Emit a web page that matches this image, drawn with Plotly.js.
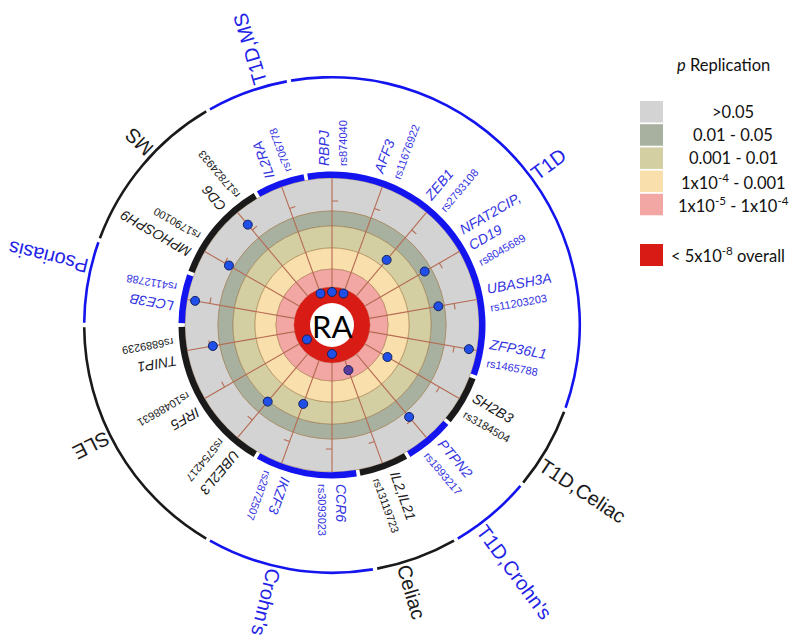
<!DOCTYPE html>
<html>
<head>
<meta charset="utf-8">
<script src="https://cdn.plot.ly/plotly-3.0.1.min.js"></script>
<style>
  html, body { margin: 0; padding: 0; background: #fff; }
  #chart { width: 800px; height: 642px; }
</style>
</head>
<body>
<div id="chart"></div>
<script>
// SNPs clockwise from the top of the circle
const genes = ['RBPJ', 'AFF3', 'ZEB1', 'NFAT2CIP,<br>CD19', 'UBASH3A', 'ZFP36L1', 'SH2B3', 'PTPN2', 'IL2,IL21',
               'CCR6', 'IKZF3', 'UBE2L3', 'IRF5', 'TNIP1', 'LCE3B', 'MPHOSPH9', 'CD6', 'IL2RA'];
const snps = ['rs874040', 'rs11676922', 'rs2793108', 'rs8045689', 'rs11203203', 'rs1465788', 'rs3184504', 'rs1893217',
              'rs13119723', 'rs3093023', 'rs2872507', 'rs5754217', 'rs10488631', 'rs6889239', 'rs4112788',
              'rs1790100', 'rs17824933', 'rs706778'];
// which disease group each SNP was first reported for (index into diseases)
const geneGroup = [1, 1, 1, 1, 1, 1, 2, 3, 4, 5, 5, 6, 6, 6, 7, 8, 8, 0];
const diseases = ['T1D,MS', 'T1D', 'T1D,Celiac', "T1D,Crohn's", 'Celiac', "Crohn's", 'SLE', 'Psoriasis', 'MS'];
// replication position on the radial scale (centre ring = overall significant)
const replication = [33, 33.5, 85, 107, 108, 139, 64, 120, 48, 29, 84, 100, 29, 121, 139, 119, 131, 33.5];

// p replication bins (outer to inner) and the overall ring
const binLabels = ['&gt;0.05', '0.01 - 0.05', '0.001 - 0.01', '1x10<sup>-4</sup> - 0.001', '1x10<sup>-5</sup> - 1x10<sup>-4</sup>'];
const overallLabel = '&lt; 5x10<sup>-8</sup> overall';

// ---- geometry / style ----
const W = 800, H = 642, CX = 332, CY = 325, RPX = 300;
const binEdges = [147, 114, 99, 77, 56, 38];   // radial scale edges for the bins
const ringInner = 22;
const binColors = ['#d3d3d3', '#a8b19f', '#d3cfa3', '#f8dfac', '#f2a7a5'];
const redColor = '#d81b14';
const BLUE = '#1414ee', BLACK = '#1a1a1a';
// groups alternate blue / black going round, both T1D groups at the top are blue
const groupColor = diseases.map((d, g) => (g === 0 || g % 2 === 1) ? BLUE : BLACK);

const step = 360 / genes.length;
const theta = genes.map((g, i) => i * step);

// group arcs
const groups = diseases.map((d, g) => {
  const a = theta.filter((t, i) => geneGroup[i] === g);
  return { center: a.reduce((s, v) => s + v, 0) / a.length, span: a.length * step };
});

const ctx = document.createElement('canvas').getContext('2d');
function textW(s, font) { ctx.font = font; return ctx.measureText(s).width; }
function toPaper(r, th) {
  const a = th * Math.PI / 180;
  return { x: (CX + r * Math.sin(a)) / W, y: 1 - (CY - r * Math.cos(a)) / H };
}
function radialLabel(text, w, r0, th, font) {
  const p = toPaper(r0 + w / 2, th);
  let ang = th - 90;
  if (ang > 180) ang -= 360;
  return { xref: 'paper', yref: 'paper', x: p.x, y: p.y, text: text, textangle: ang, showarrow: false,
           xanchor: 'center', yanchor: 'middle', align: 'left', font: font, borderpad: 0 };
}

const traces = [];

// concentric bins
traces.push({
  type: 'barpolar', hoverinfo: 'skip',
  theta: binColors.map(() => 0),
  width: binColors.map(() => 360),
  base: binEdges.slice(1),
  r: binColors.map((c, i) => binEdges[i] - binEdges[i + 1]),
  marker: { color: binColors, line: { color: 'rgba(150,105,50,0.45)', width: 1 } }
});
// overall ring
traces.push({
  type: 'barpolar', hoverinfo: 'skip',
  theta: [0], width: [360], base: [ringInner], r: [binEdges[5] - ringInner],
  marker: { color: redColor, line: { width: 0 } }
});
// gene arcs
traces.push({
  type: 'barpolar', hoverinfo: 'skip',
  theta: groups.map(g => g.center), width: groups.map(g => g.span - 1.4),
  base: groups.map(() => 147), r: groups.map(() => 6.5),
  marker: { color: groupColor, line: { width: 0 } }
});
// disease arcs
traces.push({
  type: 'barpolar', hoverinfo: 'skip',
  theta: groups.map(g => g.center), width: groups.map(g => g.span - 1.0),
  base: groups.map(() => 246.5), r: groups.map(() => 2.6),
  marker: { color: groupColor, line: { width: 0 } }
});

// spokes and ticks
const spR = [], spT = [], tkR = [], tkT = [];
theta.forEach(t => {
  spR.push(binEdges[5], binEdges[0], null); spT.push(t, t, null);
  tkR.push(124, 124.1, null); tkT.push(t, t + 2.8, null);
});
traces.push({ type: 'scatterpolar', mode: 'lines', r: spR, theta: spT, hoverinfo: 'skip',
  line: { color: '#b66a52', width: 1.1 }, connectgaps: false });
traces.push({ type: 'scatterpolar', mode: 'lines', r: tkR, theta: tkT, hoverinfo: 'skip',
  line: { color: '#b66a52', width: 1.1 }, connectgaps: false });

// replication points
traces.push({
  type: 'scatterpolar', mode: 'markers', r: replication, theta: theta,
  text: snps, hoverinfo: 'text',
  marker: { size: 9, color: genes.map(g => g === 'IL2,IL21' ? '#5a3c9e' : '#1f4fe6'),
            line: { color: '#15235e', width: 1 } }
});

const annotations = [];
// gene labels
const GF = '"Liberation Sans", Arial, sans-serif';
genes.forEach((g, i) => {
  const parts = g.split('<br>');
  const w = Math.max(...parts.map(s => textW(s, 'italic 14px ' + GF)), textW(snps[i], '11px ' + GF));
  const col = groupColor[geneGroup[i]] === BLUE ? '#3434e2' : '#1a1a1a';
  const txt = parts.map(s => '<i>' + s + '</i>').join('<br>') + '<br><span style="font-size:11px">' + snps[i] + '</span>';
  annotations.push(radialLabel(txt, w, 159, theta[i], { family: GF, size: 14, color: col }));
});
// disease labels, set a little clockwise of the group centre
diseases.forEach((d, g) => {
  const w = textW(d, '20px ' + GF);
  const col = groupColor[g] === BLUE ? '#2323e8' : '#1a1a1a';
  annotations.push(radialLabel(d, w, 251, groups[g].center + 3.5, { family: GF, size: 20, color: col }));
});
// centre
annotations.push({ xref: 'paper', yref: 'paper', x: CX / W, y: 1 - (CY + 1) / H, text: 'RA', showarrow: false,
  xanchor: 'center', yanchor: 'middle', font: { family: 'Lato, sans-serif', size: 31, color: '#000' } });

// legend
const LF = 'Lato, "Open Sans", sans-serif';
const shapes = [];
annotations.push({ xref: 'paper', yref: 'paper', x: 723 / W, y: 1 - 65 / H, text: '<i>p</i> Replication',
  showarrow: false, xanchor: 'center', yanchor: 'middle', font: { family: LF, size: 16.5, color: '#111' } });
binLabels.forEach((lab, i) => {
  const y0 = 101 + i * 23.2;
  shapes.push({ type: 'rect', xref: 'paper', yref: 'paper', x0: 640 / W, x1: 663 / W,
    y0: 1 - y0 / H, y1: 1 - (y0 + 21.5) / H, fillcolor: binColors[i], line: { width: 0 } });
  annotations.push({ xref: 'paper', yref: 'paper', x: 733 / W, y: 1 - (y0 + 11) / H, text: lab, showarrow: false,
    xanchor: 'center', yanchor: 'middle', font: { family: LF, size: 16.5, color: '#111' } });
});
shapes.push({ type: 'rect', xref: 'paper', yref: 'paper', x0: 640 / W, x1: 663 / W,
  y0: 1 - 244 / H, y1: 1 - 266 / H, fillcolor: redColor, line: { width: 0 } });
annotations.push({ xref: 'paper', yref: 'paper', x: 669 / W, y: 1 - 255 / H, text: overallLabel, showarrow: false,
  xanchor: 'left', yanchor: 'middle', font: { family: LF, size: 16.5, color: '#111' } });

const layout = {
  width: W, height: H,
  margin: { l: 0, r: 0, t: 0, b: 0 },
  paper_bgcolor: '#fff',
  showlegend: false,
  dragmode: false,
  polar: {
    domain: { x: [(CX - RPX) / W, (CX + RPX) / W], y: [(H - CY - RPX) / H, (H - CY + RPX) / H] },
    bgcolor: 'rgba(0,0,0,0)',
    barmode: 'overlay',
    radialaxis: { visible: false, range: [0, RPX] },
    angularaxis: { visible: false, rotation: 90, direction: 'clockwise' }
  },
  annotations: annotations,
  shapes: shapes
};

Plotly.newPlot('chart', traces, layout, { displayModeBar: false, staticPlot: true });
</script>
</body>
</html>
